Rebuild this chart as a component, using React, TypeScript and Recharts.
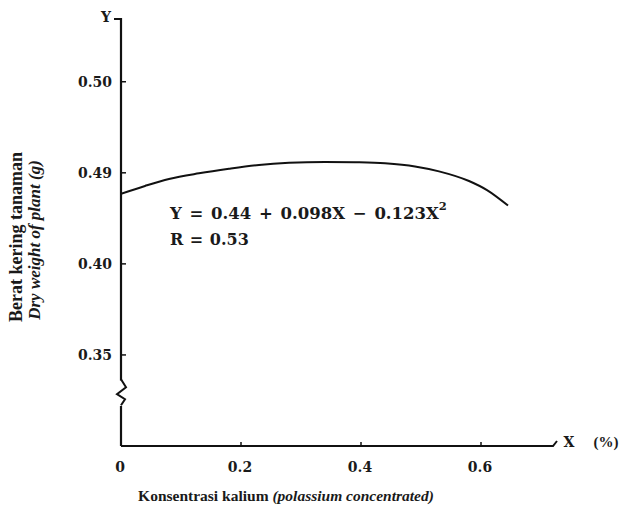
import React from "react";
import {
  LineChart,
  Line,
  XAxis,
  YAxis,
  ReferenceLine,
  ReferenceDot,
  Customized,
} from "recharts";

// Curve: X = potassium concentration (%), Y = dry weight (g)
const xValues = [0, 0.04, 0.08, 0.13, 0.18, 0.23, 0.28, 0.34, 0.39, 0.44, 0.49, 0.53, 0.58, 0.61, 0.645];
const yValues = [0.4385, 0.4428, 0.4466, 0.4497, 0.4522, 0.4543, 0.4555, 0.456, 0.4558, 0.4552, 0.4535, 0.4508, 0.4455, 0.4405, 0.432];

const xTicks = [0, 0.2, 0.4, 0.6];
const xTickLabels = ["0", "0.2", "0.4", "0.6"];
const yTicks = [0.35, 0.4, 0.45, 0.5];
const yTickLabels = ["0.35", "0.40", "0.49", "0.50"];

const data = xValues.map((x, i) => ({ x, y: yValues[i] }));

const SERIF = "'Liberation Serif', 'DejaVu Serif', serif";
const WIDE = "'DejaVu Serif', 'Liberation Serif', serif";

const YTick = (props: any) => {
  const { x, y, payload } = props;
  const idx = yTicks.indexOf(payload.value);
  const label = idx >= 0 ? yTickLabels[idx] : String(payload.value);
  return (
    <g>
      <line x1={x + 9} y1={y} x2={x + 14} y2={y} stroke="#111" strokeWidth={1.5} />
      <text x={x} y={y} textAnchor="end" dominantBaseline="central" fontFamily={WIDE} fontWeight="bold" fontSize={14} fill="#1a1a1a">
        {label}
      </text>
    </g>
  );
};

const XTick = (props: any) => {
  const { x, y, payload } = props;
  const idx = xTicks.indexOf(payload.value);
  const label = idx >= 0 ? xTickLabels[idx] : String(payload.value);
  return (
    <g>
      {payload.value !== 0 && (
        <line x1={x} y1={y - 14} x2={x} y2={y - 18} stroke="#111" strokeWidth={1.5} />
      )}
      <text x={x - 1} y={y + 7} textAnchor="middle" dominantBaseline="central" fontFamily={WIDE} fontWeight="bold" fontSize={14} fill="#1a1a1a">
        {label}
      </text>
    </g>
  );
};

const Zigzag = (props: any) => {
  const { cx, cy } = props;
  if (cx == null || cy == null) return null;
  const d = `M ${cx} ${cy - 14} L ${cx + 5} ${cy - 6} L ${cx - 4} ${cy + 1} L ${cx + 4} ${cy + 6} L ${cx} ${cy + 12}`;
  return <path d={d} fill="none" stroke="#111" strokeWidth={2} />;
};

const Decorations = () => (
  <g fill="#1a1a1a">
    {/* axis end marks */}
    <path d="M 114 19 L 121 19" stroke="#111" strokeWidth={2} fill="none" />
    <path d="M 548 446 L 553 446 L 557 441" stroke="#111" strokeWidth={2} fill="none" />
    <text x={106} y={17} textAnchor="middle" dominantBaseline="central" fontFamily={WIDE} fontWeight="bold" fontSize={14}>Y</text>
    <text x={569} y={442} textAnchor="middle" dominantBaseline="central" fontFamily={WIDE} fontWeight="bold" fontSize={14}>X</text>
    <text x={606} y={442} textAnchor="middle" dominantBaseline="central" fontFamily={SERIF} fontWeight="bold" fontSize={15}>(%)</text>
    {/* equation */}
    <text x={170} y={213} dominantBaseline="central" fontFamily={WIDE} fontWeight="bold" fontSize={16.5} wordSpacing={2}>
      Y = 0.44 + 0.098X − 0.123X<tspan dy={-7} fontSize={11.5}>2</tspan>
    </text>
    <text x={170} y={239} dominantBaseline="central" fontFamily={WIDE} fontWeight="bold" fontSize={16} wordSpacing={1}>R = 0.53</text>
    {/* y axis title */}
    <text transform="translate(16,237) rotate(-90)" textAnchor="middle" dominantBaseline="central" fontFamily={SERIF} fontWeight="bold" fontSize={18}>
      Berat kering tanaman
    </text>
    <text transform="translate(34,240) rotate(-90)" textAnchor="middle" dominantBaseline="central" fontFamily={SERIF} fontWeight="bold" fontStyle="italic" fontSize={17}>
      Dry weight of plant (g)
    </text>
    {/* x axis title */}
    <text x={286} y={495} textAnchor="middle" dominantBaseline="central" fontFamily={SERIF} fontSize={15.5}>
      <tspan fontWeight="bold">Konsentrasi kalium </tspan>
      <tspan fontStyle="italic" fontWeight="bold">(polassium concentrated)</tspan>
    </text>
  </g>
);

export default function App() {
  return (
    <div style={{ position: "absolute", left: 0, top: 0, background: "#fff" }}>
      <LineChart
        width={625}
        height={510}
        data={data}
        margin={{ top: 18, right: 72, bottom: 0, left: 0 }}
      >
        <XAxis
          type="number"
          dataKey="x"
          domain={[0, 0.72]}
          ticks={xTicks}
          allowDataOverflow
          height={64}
          tickSize={0}
          tickMargin={14}
          tick={<XTick />}
          axisLine={{ stroke: "#111", strokeWidth: 2 }}
          tickLine={false}
        />
        <YAxis
          type="number"
          domain={[0.3, 0.535]}
          ticks={yTicks}
          allowDataOverflow
          width={121}
          tickSize={0}
          tickMargin={9}
          tick={<YTick />}
          axisLine={false}
          tickLine={false}
        />
        <ReferenceLine
          segment={[{ x: 0, y: 0.3 }, { x: 0, y: 0.322 }]}
          stroke="#111"
          strokeWidth={2.2}
        />
        <ReferenceLine
          segment={[{ x: 0, y: 0.336 }, { x: 0, y: 0.535 }]}
          stroke="#111"
          strokeWidth={2.2}
        />
        <ReferenceDot x={0} y={0.329} r={1} shape={<Zigzag />} />
        <Line
          type="monotone"
          dataKey="y"
          stroke="#111"
          strokeWidth={2}
          dot={false}
          isAnimationActive={false}
        />
        <Customized component={<Decorations />} />
      </LineChart>
    </div>
  );
}
